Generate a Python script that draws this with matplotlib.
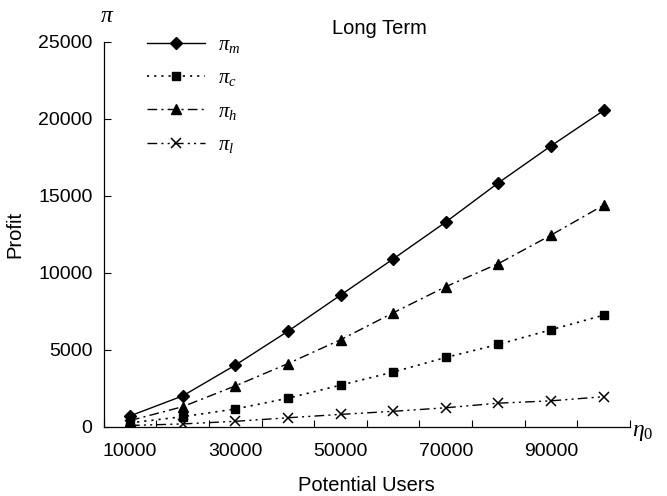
import matplotlib
matplotlib.use("Agg")
import matplotlib.pyplot as plt
from matplotlib.ticker import FixedLocator, NullFormatter

plt.rcParams['font.family'] = ['Liberation Sans', 'DejaVu Sans']
plt.rcParams['mathtext.fontset'] = 'custom'
plt.rcParams['mathtext.rm'] = 'Liberation Serif'
plt.rcParams['mathtext.it'] = 'Liberation Serif:italic'

categories = [10000, 20000, 30000, 40000, 50000, 60000, 70000, 80000, 90000, 100000]
tick_labels = ['10000', '', '30000', '', '50000', '', '70000', '', '90000', '']
pi_m = [700, 2000, 4000, 6200, 8550, 10900, 13300, 15850, 18250, 20550]
pi_c = [250, 650, 1150, 1850, 2700, 3550, 4500, 5350, 6300, 7250]
pi_h = [400, 1300, 2650, 4100, 5650, 7400, 9100, 10600, 12450, 14400]
pi_l = [80, 180, 350, 580, 800, 1000, 1230, 1530, 1680, 1950]
series_labels = [r'$\pi_m$', r'$\pi_c$', r'$\pi_h$', r'$\pi_l$']

W, H = 667, 496
fig = plt.figure(figsize=(W / 100, H / 100), dpi=100)
ax = fig.add_axes([103.7 / W, 1 - 426.7 / H, (630 - 103.7) / W, (426.7 - 42) / H])

x = list(range(1, len(categories) + 1))
lw = 1.0
ax.plot(x, pi_m, color='black', lw=lw, ls='-', marker='D', ms=6, label=series_labels[0])
ax.plot(x, pi_c, color='black', lw=1.2, ls=(0, (1.3, 3.0)), marker='s', ms=6, label=series_labels[1])
ax.plot(x, pi_h, color='black', lw=lw, ls=(0, (7, 3, 1.5, 3)), marker='^', ms=7, label=series_labels[2])
ax.plot(x, pi_l, color='black', lw=lw, ls=(0, (7, 3, 1.5, 3, 1.5, 3)), marker='x', ms=6.5, mew=1.1, label=series_labels[3])

ax.set_xlim(0.5, len(categories) + 0.5)
ax.set_ylim(0, 25000)
ax.set_yticks([0, 5000, 10000, 15000, 20000, 25000])
ax.tick_params(axis='y', direction='in', length=5, width=0.8, labelsize=14, pad=8)

ax.set_xticks(x)
ax.set_xticklabels(tick_labels)
ax.xaxis.set_minor_locator(FixedLocator([i + 0.5 for i in range(0, len(categories) + 1)]))
ax.xaxis.set_minor_formatter(NullFormatter())
ax.tick_params(axis='x', which='major', length=0, labelsize=14, pad=12)
ax.tick_params(axis='x', which='minor', direction='in', length=5, width=0.8)

for s in ['top', 'right']:
    ax.spines[s].set_visible(False)
for s in ['left', 'bottom']:
    ax.spines[s].set_linewidth(0.9)

ax.set_ylabel('Profit', fontsize=14.5, labelpad=10)
ax.set_xlabel('Potential Users', fontsize=14.5, labelpad=11)

fig.text(379 / W, 1 - 28 / H, 'Long Term', fontsize=14.5, ha='center', va='center')
fig.text(107 / W, 1 - 16 / H, r'$\pi$', fontsize=17, ha='center', va='center')
fig.text(632 / W, 1 - 432 / H, r'$\eta_0$', fontsize=17, ha='left', va='center')

leg = ax.legend(loc='upper left', bbox_to_anchor=((147 - 103.7) / 526.3, 1.018), frameon=False,
                fontsize=15, handlelength=2.8, handletextpad=0.6, labelspacing=0.64,
                borderpad=0, borderaxespad=0)

fig.savefig('out.png', dpi=100)
